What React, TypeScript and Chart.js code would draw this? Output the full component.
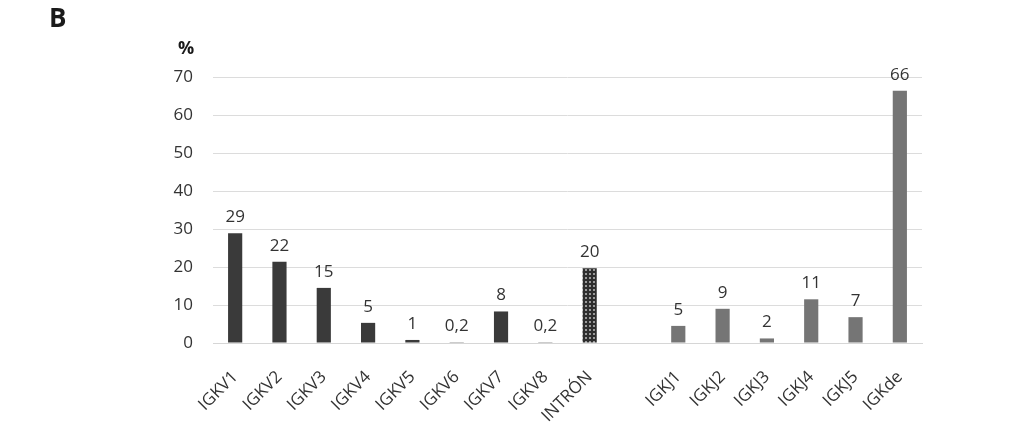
import React, { useEffect, useRef } from "react";
import { Chart, registerables } from "chart.js";

Chart.register(...registerables);

const categories = ["IGKV1","IGKV2","IGKV3","IGKV4","IGKV5","IGKV6","IGKV7","IGKV8","INTRÓN","","IGKJ1","IGKJ2","IGKJ3","IGKJ4","IGKJ5","IGKde"];
const values = [28.9, 21.4, 14.5, 5.3, 0.8, 0.2, 8.3, 0.2, 19.7, null, 4.5, 9.0, 1.2, 11.5, 6.8, 66.4];
const valueLabels = ["29","22","15","5","1","0,2","8","0,2","20","","5","9","2","11","7","66"];
const groups = ["V","V","V","V","V","V","V","V","I","","J","J","J","J","J","J"];
const yTicks = [0, 10, 20, 30, 40, 50, 60, 70];

const FONT = "'Open Sans', 'Noto Sans', sans-serif";

function makePattern(): CanvasPattern | string {
  const c = document.createElement("canvas");
  c.width = 4;
  c.height = 4;
  const g = c.getContext("2d");
  if (!g) return "#333";
  g.fillStyle = "#2e2e2e";
  g.fillRect(0, 0, 4, 4);
  g.fillStyle = "#9a9a9a";
  g.fillRect(1, 1, 2, 2);
  const ctx = document.createElement("canvas").getContext("2d");
  return ctx!.createPattern(c, "repeat") || "#333";
}

export default function App() {
  const ref = useRef<HTMLCanvasElement>(null);
  useEffect(() => {
    document.body.style.margin = "0";
    const pattern = makePattern();
    const colors = groups.map((g) => (g === "V" ? "#3a3a3a" : g === "I" ? pattern : "#757575"));

    const labelPlugin = {
      id: "valueLabels",
      afterDatasetsDraw(chart: any) {
        const ctx = chart.ctx;
        const meta = chart.getDatasetMeta(0);
        ctx.save();
        ctx.font = `17px ${FONT}`;
        ctx.fillStyle = "#333";
        ctx.textAlign = "center";
        ctx.textBaseline = "alphabetic";
        meta.data.forEach((el: any, i: number) => {
          if (!valueLabels[i]) return;
          ctx.fillText(valueLabels[i], el.x, el.y - 11);
        });
        ctx.restore();
      },
      afterDraw(chart: any) {
        const ctx = chart.ctx;
        ctx.save();
        ctx.fillStyle = "#1a1a1a";
        ctx.font = `bold 26px ${FONT}`;
        ctx.textAlign = "left";
        ctx.textBaseline = "middle";
        ctx.fillText("B", 49, 20);
        ctx.font = `bold 18px ${FONT}`;
        ctx.textAlign = "center";
        ctx.fillText("%", 186, 49);
        ctx.restore();
      },
    };

    const chart = new Chart(ref.current!, {
      type: "bar",
      data: {
        labels: categories,
        datasets: [
          {
            data: values as any,
            backgroundColor: colors as any,
            barPercentage: 0.32,
            categoryPercentage: 1,
          },
        ],
      },
      options: {
        animation: false,
        responsive: false,
        maintainAspectRatio: false,
        layout: { padding: { top: 77, right: 102, left: 0, bottom: 0 } },
        plugins: { legend: { display: false }, tooltip: { enabled: false } },
        scales: {
          x: {
            grid: { display: false, drawTicks: false },
            border: { color: "#d6d6d6", width: 1 },
            ticks: {
              autoSkip: false,
              maxRotation: 45,
              minRotation: 45,
              padding: 24,
              color: "#333",
              font: { family: FONT, size: 17 },
            },
            afterFit: (s: any) => { s.height = 83; },
          },
          y: {
            min: 0,
            max: 70,
            afterBuildTicks: (s: any) => { s.ticks = yTicks.map((v) => ({ value: v })); },
            grid: { color: "#dcdcdc", drawTicks: false },
            border: { display: false },
            ticks: {
              padding: 20,
              color: "#333",
              font: { family: FONT, size: 17 },
            },
            afterFit: (s: any) => { s.width = 213; },
          },
        },
      },
      plugins: [labelPlugin],
    });
    return () => chart.destroy();
  }, []);
  return (
    <div style={{ width: 1024, height: 426 }}>
      <canvas ref={ref} width={1024} height={426} style={{ width: 1024, height: 426, display: "block" }} />
    </div>
  );
}
